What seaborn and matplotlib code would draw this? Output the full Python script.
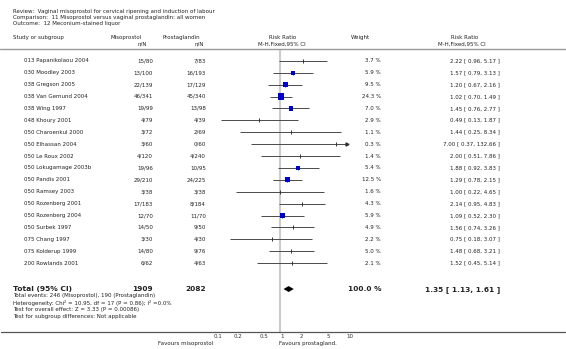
import seaborn as sns
import matplotlib.pyplot as plt
import matplotlib.transforms as mtransforms
from matplotlib.lines import Line2D
import numpy as np
import pandas as pd

# ---- data ----
studies = [
    "013 Papanikolaou 2004", "030 Moodley 2003", "038 Gregson 2005", "038 Van Gemund 2004",
    "038 Wing 1997", "048 Khoury 2001", "050 Charoenkul 2000", "050 Elhassan 2004",
    "050 Le Roux 2002", "050 Lokugamage 2003b", "050 Pandis 2001", "050 Ramsey 2003",
    "050 Rozenberg 2001", "050 Rozenberg 2004", "050 Surbek 1997", "075 Chang 1997",
    "075 Kolderup 1999", "200 Rowlands 2001",
]
miso = ["15/80", "13/100", "22/139", "46/341", "19/99", "4/79", "3/72", "3/60", "4/120",
        "19/96", "29/210", "3/38", "17/183", "12/70", "14/50", "3/30", "14/80", "6/62"]
prosta = ["7/83", "16/193", "17/129", "45/340", "13/98", "4/39", "2/69", "0/60", "4/240",
          "10/95", "24/225", "3/38", "8/184", "11/70", "9/50", "4/30", "9/76", "4/63"]
weight = [3.7, 5.9, 9.5, 24.3, 7.0, 2.9, 1.1, 0.3, 1.4, 5.4, 12.5, 1.6, 4.3, 5.9, 4.9, 2.2, 5.0, 2.1]
rr = [2.22, 1.57, 1.20, 1.02, 1.45, 0.49, 1.44, 7.00, 2.00, 1.88, 1.29, 1.00, 2.14, 1.09, 1.56, 0.75, 1.48, 1.52]
lo = [0.96, 0.79, 0.67, 0.70, 0.76, 0.13, 0.25, 0.37, 0.51, 0.92, 0.78, 0.22, 0.95, 0.52, 0.74, 0.18, 0.68, 0.45]
hi = [5.17, 3.13, 2.16, 1.49, 2.77, 1.87, 8.34, 132.66, 7.86, 3.83, 2.15, 4.65, 4.83, 2.30, 3.26, 3.07, 3.21, 5.14]

total_n = ["1909", "2082"]
total_rr, total_lo, total_hi = 1.35, 1.13, 1.61
ticks = [0.1, 0.2, 0.5, 1, 2, 5, 10]
tick_labels = ["0.1", "0.2", "0.5", "1", "2", "5", "10"]

df = pd.DataFrame({"study": studies, "weight": weight, "rr": rr, "lo": lo, "hi": hi})
df["row"] = np.arange(len(df))
df["lo_c"] = df["lo"].clip(lower=0.1)
df["hi_c"] = df["hi"].clip(upper=10)

# ---- figure ----
W, H = 566, 349
sns.set_theme(style="white")
plt.rcParams["font.family"] = ["DejaVu Sans"]
fig = plt.figure(figsize=(W / 100, H / 100), dpi=100)
px = mtransforms.Affine2D().scale(1 / W, -1 / H).translate(0, 1) + fig.transFigure

ROW0, STEP = 60.8, 11.9
top_px, axis_px = 49, 332
ax = fig.add_axes([213.5 / W, 1 - axis_px / H, 133 / W, (axis_px - top_px) / H])
ax.set_xscale("log")
ax.set_xlim(0.1, 10)
ax.set_ylim((axis_px - ROW0) / STEP, (top_px - ROW0) / STEP)
ax.patch.set_alpha(0)
for s in ax.spines.values():
    s.set_visible(False)

ax.axvline(1, color="#cccccc", lw=1.5, zorder=0)
ax.hlines(df["row"], df["lo_c"], df["hi_c"], color="#4a4a4a", lw=0.7, zorder=2)
ax.plot(df["rr"], df["row"], ls="none", marker="|", ms=2.3, mew=0.7, color="#333333", zorder=3)
# weighted squares (only the heavier studies show one)
big = df[df["weight"] > 5.2]
sns.scatterplot(data=big, x="rr", y="row", size="weight", sizes=(8.5, 18.7),
                size_norm=(5.4, 24.3), marker="s", color="#0000cc", linewidth=0,
                legend=False, ax=ax, zorder=4)
arrow = df[df["hi"] > 10]
ax.plot(arrow["hi_c"], arrow["row"], ls="none", marker=">", ms=2.2, color="#333333",
        clip_on=False, zorder=3)

total_row = 19.18
dx = [total_lo, total_rr, total_hi, total_rr]
dy = [total_row, total_row - 0.25, total_row, total_row + 0.25]
ax.fill(dx, dy, color="black", lw=0, zorder=4)

ax.set_xticks(ticks)
ax.set_xticklabels(tick_labels)
ax.minorticks_off()
ax.set_yticks([])
ax.tick_params(axis="x", direction="in", length=2, width=0.6, color="#555555",
               labelsize=4, labelcolor="#333333", pad=1.2)
for t in ax.get_xticklabels():
    t.set_ha("left")
ax.set_xlabel("")
ax.set_ylabel("")

fig.add_artist(Line2D([0, 1], [1 - 48.5 / H] * 2, transform=fig.transFigure, color="#999999", lw=1))
fig.add_artist(Line2D([0.002, 0.998], [1 - axis_px / H] * 2, transform=fig.transFigure,
                      color="#555555", lw=0.9))

# ---- text ----
tc = "#222222"
fs = 4
def txt(x, y, s, ha="left", bold=False, size=fs):
    fig.text(x, y, s, transform=px, ha=ha, va="center", fontsize=size, color=tc,
             fontweight="bold" if bold else "normal")

txt(13, 11.7, "Review:  Vaginal misoprostol for cervical ripening and induction of labour")
txt(13, 17.6, "Comparison:  11 Misoprostol versus vaginal prostaglandin: all women")
txt(13, 23.8, "Outcome:  12 Meconium-stained liquor")

txt(13, 37.7, "Study or subgroup")
txt(126, 37.7, "Misoprostol", ha="center")
txt(147, 43.5, "n/N", ha="right")
txt(181, 37.7, "Prostaglandin", ha="center")
txt(204, 43.5, "n/N", ha="right")
txt(283, 37.7, "Risk Ratio", ha="center")
txt(282, 43.8, "M-H,Fixed,95% CI", ha="center")
txt(351, 37.7, "Weight")
txt(465, 37.7, "Risk Ratio", ha="center")
txt(462, 43.8, "M-H,Fixed,95% CI", ha="center")

for i in range(len(studies)):
    y = ROW0 + STEP * i
    txt(24, y, studies[i])
    txt(153, y, miso[i], ha="right")
    txt(206, y, prosta[i], ha="right")
    txt(381, y, f"{weight[i]:.1f} %", ha="right")
    txt(500, y, f"{rr[i]:.2f} [ {lo[i]:.2f}, {hi[i]:.2f} ]", ha="right")

yt = ROW0 + STEP * total_row
txt(13, yt, "Total (95% CI)", bold=True, size=5.4)
txt(153, yt, total_n[0], ha="right", bold=True, size=5.3)
txt(206, yt, total_n[1], ha="right", bold=True, size=5.3)
txt(381, yt, "100.0 %", ha="right", bold=True, size=5.3)
txt(500, yt, f"{total_rr:.2f} [ {total_lo:.2f}, {total_hi:.2f} ]", ha="right", bold=True, size=5.3)

txt(13, 295.8, "Total events: 246 (Misoprostol), 190 (Prostaglandin)")
txt(13, 303.2, "Heterogeneity: Chi² = 10.95, df = 17 (P = 0.86); I² =0.0%")
txt(13, 310.0, "Test for overall effect: Z = 3.33 (P = 0.00086)")
txt(13, 316.8, "Test for subgroup differences: Not applicable")

txt(213, 343.2, "Favours misoprostol", ha="right")
txt(279, 343.2, "Favours prostagland.")

fig.savefig("out.png", dpi=100)
